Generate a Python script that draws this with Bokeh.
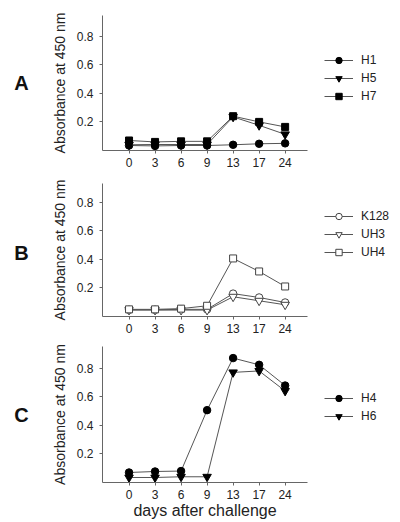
from bokeh.plotting import figure
from bokeh.layouts import column, row
from bokeh.models import FixedTicker, Legend, LegendItem, Range1d
from bokeh.core.properties import value
from bokeh.embed import file_html
from bokeh.resources import INLINE

# ---- data ----
days = ["0", "3", "6", "9", "13", "17", "24"]
y_ticks = [0.2, 0.4, 0.6, 0.8]
y_label = "Absorbance at 450 nm"
x_label = "days after challenge"

# panel A
h1 = [0.035, 0.032, 0.035, 0.035, 0.040, 0.047, 0.050]
h5 = [0.040, 0.042, 0.042, 0.042, 0.235, 0.176, 0.113]
h7 = [0.070, 0.060, 0.064, 0.064, 0.240, 0.200, 0.165]

# panel B
k128 = [0.047, 0.047, 0.050, 0.050, 0.160, 0.133, 0.098]
uh3 = [0.045, 0.045, 0.045, 0.045, 0.138, 0.110, 0.082]
uh4 = [0.050, 0.050, 0.055, 0.075, 0.406, 0.315, 0.210]

# panel C
h4 = [0.070, 0.077, 0.080, 0.506, 0.870, 0.823, 0.678]
h6 = [0.035, 0.035, 0.040, 0.040, 0.770, 0.780, 0.640]

FONT = "Liberation Sans"
LINE = "#555555"
TXT = "#222222"
FW = 205            # frame width
PX_PER_UNIT = 143.0
xs = list(range(len(days)))
SIZES = {"circle": 7.5, "inverted_triangle": 8.5, "square": 7}


def letter_fig(letter, top, fh, center_below_top):
    f = figure(frame_width=48, frame_height=fh, x_range=Range1d(0, 48),
               y_range=Range1d(0, fh), output_backend="svg",
               toolbar_location=None, min_border_left=0, min_border_right=0,
               min_border_top=top, min_border_bottom=0)
    f.axis.visible = False
    f.grid.visible = False
    f.outline_line_color = None
    f.text(x=[21], y=[fh - center_below_top], text=[letter],
           text_font=value(FONT), text_font_size="20px",
           text_font_style="bold", text_align="center",
           text_baseline="middle", text_color="#111111")
    return f


def make_panel(series, top, fh, legend_y, xlabel=None):
    p = figure(frame_width=FW, frame_height=fh,
               x_range=Range1d(-1.02, 6.86), y_range=Range1d(0, fh / PX_PER_UNIT),
               output_backend="svg", toolbar_location=None,
               min_border_left=49, min_border_right=90,
               min_border_top=top, min_border_bottom=0)
    p.outline_line_color = None
    p.grid.visible = False

    items = []
    for name, vals, marker, filled in series:
        r1 = p.line(xs, vals, line_color=LINE, line_width=1)
        if filled:
            r2 = p.scatter(xs, vals, marker=marker, size=SIZES[marker],
                           fill_color="black", line_color="black")
        else:
            r2 = p.scatter(xs, vals, marker=marker, size=SIZES[marker],
                           fill_color="white", line_color="#444444", line_width=1)
        items.append(LegendItem(label=name, renderers=[r1, r2]))

    leg = Legend(items=items, location=(17, legend_y),
                 glyph_width=29, glyph_height=16, label_height=16,
                 label_standoff=8, spacing=2, padding=0, margin=0,
                 border_line_color=None, background_fill_alpha=0,
                 label_text_font=FONT, label_text_font_size="12px",
                 label_text_color=TXT)
    p.add_layout(leg, "right")

    xa = p.xaxis[0]
    xa.ticker = FixedTicker(ticks=xs)
    xa.major_label_overrides = {i: d for i, d in enumerate(days)}
    xa.minor_tick_line_color = None
    xa.major_tick_in = 0
    xa.major_tick_out = 3
    xa.major_label_standoff = 4
    xa.axis_line_color = "#666666"
    xa.major_tick_line_color = "#666666"
    xa.major_label_text_font = FONT
    xa.major_label_text_font_size = "12px"
    xa.major_label_text_color = TXT
    if xlabel:
        xa.axis_label = xlabel
        xa.axis_label_text_font = FONT
        xa.axis_label_text_font_size = "16px"
        xa.axis_label_text_font_style = "normal"
        xa.axis_label_text_color = TXT
        xa.axis_label_standoff = 0

    ya = p.yaxis[0]
    ya.ticker = FixedTicker(ticks=y_ticks)
    ya.minor_tick_line_color = None
    ya.major_tick_in = 0
    ya.major_tick_out = 3
    ya.major_label_standoff = 6
    ya.axis_line_color = "#666666"
    ya.major_tick_line_color = "#666666"
    ya.major_label_text_font = FONT
    ya.major_label_text_font_size = "12px"
    ya.major_label_text_color = TXT
    ya.axis_label = y_label
    ya.axis_label_text_font = FONT
    ya.axis_label_text_font_size = "14px"
    ya.axis_label_text_font_style = "normal"
    ya.axis_label_text_color = TXT
    ya.axis_label_standoff = 6
    return p


pa = make_panel([("H1", h1, "circle", True),
                 ("H5", h5, "inverted_triangle", True),
                 ("H7", h7, "square", True)], 15, 135, 46)
pb = make_panel([("K128", k128, "circle", False),
                 ("UH3", uh3, "inverted_triangle", False),
                 ("UH4", uh4, "square", False)], 14, 133, 56)
pc = make_panel([("H4", h4, "circle", True),
                 ("H6", h6, "inverted_triangle", True)], 11, 136, 58,
                xlabel=x_label)

la = letter_fig("A", 15, 135, 67)
lb = letter_fig("B", 14, 133, 69)
lc = letter_fig("C", 11, 136, 68)

layout = column(row(la, pa, spacing=0), row(lb, pb, spacing=0),
                row(lc, pc, spacing=0), spacing=0)
open("out.html", "w").write(file_html(layout, INLINE))
